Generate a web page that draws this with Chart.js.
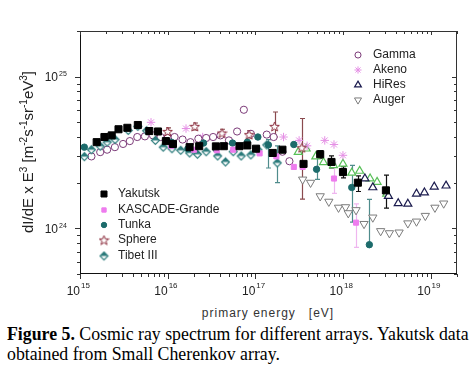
<!DOCTYPE html>
<html>
<head>
<meta charset="utf-8">
<script src="https://cdn.jsdelivr.net/npm/chart.js@4.4.1/dist/chart.umd.min.js"></script>
<style>
body { margin: 0; background: #fff; }
#wrap { position: relative; width: 476px; height: 373px; overflow: hidden; }
#box { position: absolute; left: 0; top: 0; width: 476px; height: 300px; }
#xtitle { position: absolute; top: 306px; left: 268px; transform: translateX(-50%); font: 12px "Liberation Sans", Arial, sans-serif; letter-spacing: 1px; color: #333; white-space: pre; }
#caption { position: absolute; left: 7px; top: 324px; font: 17.8px "Liberation Serif", "Times New Roman", serif; line-height: 20px; color: #000; white-space: nowrap; }
</style>
</head>
<body>
<div id="wrap">
    <div id="box"><canvas id="spectrum"></canvas></div>
    <div id="xtitle">primary energy   [eV]</div>
    <div id="caption"><b>Figure 5.</b> Cosmic ray spectrum for different arrays. Yakutsk data<br>obtained from Small Cherenkov array.</div>
</div>
<script>
// energies in eV, flux dI/dE x E^3 in units of 1e24 m-2 s-1 sr-1 eV2

const xDecades = [15, 16, 17, 18, 19];
const yDecades = [24, 25];

const yakutskE = [1.55e15, 1.9e15, 2.3e15, 2.75e15, 3.47e15, 4.57e15, 6.17e15, 7.76e15, 9.55e15, 1.15e16, 1.78e16, 2.29e16, 3.55e16, 4.37e16, 6.6e16, 8.1e16, 1.02e17, 1.58e17, 2.04e17, 3.55e17, 5.5e17, 7.4e17, 1.0e18, 1.48e18, 3.09e18];
const yakutskJ = [3.7, 4.0, 4.1, 4.5, 4.6, 4.8, 4.38, 4.35, 3.76, 3.6, 3.43, 3.48, 3.47, 3.48, 3.48, 3.52, 3.35, 3.14, 3.3, 2.66, 3.08, 2.74, 2.35, 2.0, 1.78];
const yakutskLo = [null, null, null, null, null, null, null, null, null, null, null, null, null, null, null, null, null, null, null, null, 2.9, 2.5, 2.15, 1.75, 1.36];
const yakutskHi = [null, null, null, null, null, null, null, null, null, null, null, null, null, null, null, null, null, null, null, null, 3.25, 3.0, 2.55, 2.22, 2.24];

const kascadeE = [1.1e16, 2.0e16, 3.63e16, 5.6e16, 1.12e17, 1.74e17, 2.75e17, 3.47e17, 7.9e17, 1.41e18];
const kascadeJ = [3.5, 3.3, 3.27, 3.3, 3.12, 2.98, 2.54, 2.54, 2.13, 1.09];
const kascadeLo = [null, null, null, null, null, null, null, null, 1.7, 0.75];
const kascadeHi = [null, null, null, null, null, null, null, null, 2.65, 1.45];

const tunkaE = [1.12e15, 1.1e16, 1.7e16, 2.57e16, 3.55e16, 5.5e16, 8.1e16, 1.07e17, 1.41e17, 2.75e17, 5.0e17, 5.5e17, 1.26e18, 2.0e18];
const tunkaJ = [3.43, 3.7, 3.35, 3.65, 3.35, 3.65, 3.7, 4.0, 3.55, 3.57, 2.45, 3.1, 1.86, 0.78];
const tunkaLo = [null, null, null, null, null, null, null, null, 2.5, null, 2.1, null, 1.1, 0.78];
const tunkaHi = [null, null, null, null, null, null, null, null, 3.85, null, 2.95, null, 2.6, 1.55];

const sphereE = [1.0e16, 2.04e16, 4.17e16, 8.5e16, 1.66e17, 3.39e17];
const sphereJ = [4.35, 4.7, 4.25, 4.15, 4.7, 3.4];
const sphereLo = [4.15, 4.45, 4.0, 3.95, 4.0, 1.56];
const sphereHi = [4.6, 4.95, 4.5, 4.4, 5.85, 5.3];

const tibetE = [1.12e15, 1.35e15, 1.7e15, 2.04e15, 2.51e15, 3.55e15, 4.57e15, 5.75e15, 7.24e15, 8.9e15, 1.12e16, 1.41e16, 1.78e16, 2.19e16, 2.75e16, 3.72e16, 4.57e16, 5.6e16, 6.9e16, 8.9e16, 1.07e17, 1.35e17, 1.78e17];
const tibetJ = [2.97, 3.3, 3.48, 3.7, 3.85, 4.42, 4.7, 4.4, 3.8, 3.43, 3.35, 3.27, 3.14, 3.08, 3.2, 3.0, 2.74, 3.2, 3.0, 3.05, 3.3, 3.55, 2.7];
const tibetLo = [null, null, null, null, null, null, null, null, null, null, null, null, null, null, null, null, null, null, null, null, null, null, 2.0];
const tibetHi = [null, null, null, null, null, null, null, null, null, null, null, null, null, null, null, null, null, null, null, null, null, null, 3.5];

const gammaE = [1.35e15, 1.7e15, 2.04e15, 2.5e15, 3.1e15, 3.7e15, 4.5e15, 5.5e15, 6.8e15, 8.3e15, 1.0e16, 1.2e16, 1.48e16, 1.82e16, 2.24e16, 2.75e16, 3.3e16, 4.0e16, 5.0e16, 6.2e16, 7.4e16, 8.9e16, 1.35e17, 1.62e17, 2.04e17, 2.45e17];
const gammaJ = [2.98, 3.18, 3.3, 3.43, 3.6, 3.76, 4.0, 4.04, 4.1, 4.0, 3.95, 4.0, 3.85, 3.7, 3.9, 3.94, 4.0, 4.1, 3.8, 4.35, 6.05, 4.2, 4.15, 4.0, 3.2, 2.77];

const akenoE = [6.46e15, 1.62e16, 2.51e16, 4.17e16, 2.1e17, 3.16e17, 3.9e17, 6.2e17, 7.9e17, 1.0e18];
const akenoJ = [5.0, 4.55, 4.0, 4.15, 4.0, 3.8, 3.5, 3.8, 3.57, 3.03];

const hiresE = [1.78e18, 2.19e18, 3.3e18, 4.27e18, 5.5e18, 6.9e18, 8.5e18, 1.1e19, 1.5e19];
const hiresJ = [2.13, 1.86, 1.63, 1.46, 1.45, 1.69, 1.72, 1.88, 1.91];

const hires1E = [3.09e17, 3.8e17, 4.9e17, 6.0e17, 7.8e17, 1.0e18, 1.26e18, 1.55e18, 2.04e18, 2.45e18, 3.16e18];
const hires1J = [3.18, 3.35, 2.97, 2.72, 2.6, 2.66, 2.32, 2.39, 2.13, 2.02, 1.69];

const augerE = [3.47e17, 4.27e17, 5.5e17, 6.9e17, 8.9e17, 1.07e18, 1.15e18, 1.41e18, 1.74e18, 2.19e18, 2.69e18, 3.39e18, 4.37e18, 5.5e18, 6.9e18, 8.7e18, 1.12e19, 1.41e19];
const augerJ = [2.1, 2.0, 1.63, 1.5, 1.37, 1.38, 1.26, 1.32, 1.07, 1.18, 0.96, 0.93, 0.94, 1.08, 1.11, 1.21, 1.37, 1.46];

const legendLeft = ["Yakutsk", "KASCADE-Grande", "Tunka", "Sphere", "Tibet III"];
const legendRight = ["Gamma", "Akeno", "HiRes", "Auger"];

const SANS = '"Liberation Sans", Arial, sans-serif';

function pts(E, J) {
    return E.map((e, i) => ({ x: e, y: J[i] * 1e24 }));
}

function makeStar(color) {
    const c = document.createElement("canvas");
    c.width = 11; c.height = 11;
    const g = c.getContext("2d");
    g.beginPath();
    for (let k = 0; k < 10; k++) {
        const r = k % 2 ? 2.1 : 5;
        const a = -Math.PI / 2 + k * Math.PI / 5;
        g.lineTo(5.5 + r * Math.cos(a), 6 + r * Math.sin(a));
    }
    g.closePath();
    g.fillStyle = "#fff";
    g.fill();
    g.strokeStyle = color;
    g.lineWidth = 1;
    g.stroke();
    return c;
}

function makeHalfDiamond(color) {
    const c = document.createElement("canvas");
    c.width = 11; c.height = 11;
    const g = c.getContext("2d");
    g.beginPath();
    g.moveTo(5.5, 1.5); g.lineTo(9.5, 5.5); g.lineTo(5.5, 9.5); g.lineTo(1.5, 5.5);
    g.closePath();
    g.fillStyle = "#fff";
    g.fill();
    g.strokeStyle = color;
    g.lineWidth = 1.1;
    g.stroke();
    g.beginPath();
    g.moveTo(1.5, 5.5); g.lineTo(5.5, 1.5); g.lineTo(9.5, 5.5);
    g.closePath();
    g.fillStyle = color;
    g.fill();
    return c;
}

function series(label, E, J, style) {
    return Object.assign({
        label: label,
        data: pts(E, J),
        showLine: false,
        borderWidth: 1
    }, style);
}

const datasets = [
    series("Yakutsk", yakutskE, yakutskJ, { pointStyle: "rect", pointRadius: 5, backgroundColor: "#000", borderColor: "#000", errLo: yakutskLo, errHi: yakutskHi, errColor: "#111" }),
    series("KASCADE-Grande", kascadeE, kascadeJ, { pointStyle: "rect", pointRadius: 3.6, backgroundColor: "#ee7cee", borderColor: "#ee7cee", errLo: kascadeLo, errHi: kascadeHi, errColor: "#efb6ef" }),
    series("Tunka", tunkaE, tunkaJ, { pointStyle: "circle", pointRadius: 3.2, backgroundColor: "#1c6b6b", borderColor: "#1c6b6b", errLo: tunkaLo, errHi: tunkaHi, errColor: "#4f8c8c" }),
    series("Sphere", sphereE, sphereJ, { pointStyle: makeStar("#8b2b3b"), pointRadius: 5, backgroundColor: "#fff", borderColor: "#8b2b3b", errLo: sphereLo, errHi: sphereHi, errColor: "#8a4a4e" }),
    series("Tibet III", tibetE, tibetJ, { pointStyle: makeHalfDiamond("#2a7a7a"), pointRadius: 5, backgroundColor: "#2a7a7a", borderColor: "#2a7a7a", errLo: tibetLo, errHi: tibetHi, errColor: "#4f8c8c" }),
    series("Gamma", gammaE, gammaJ, { pointStyle: "circle", pointRadius: 3.6, backgroundColor: "#fff", borderColor: "#7b3a78" }),
    series("Akeno", akenoE, akenoJ, { pointStyle: "star", pointRadius: 4.2, backgroundColor: "#e58fe5", borderColor: "#e58fe5" }),
    series("HiRes", hiresE, hiresJ, { pointStyle: "triangle", pointRadius: 4.6, backgroundColor: "#fff", borderColor: "#1b1b4e", borderWidth: 1.2 }),
    series("HiRes I", hires1E, hires1J, { pointStyle: "triangle", pointRadius: 4.6, backgroundColor: "#fff", borderColor: "#58bf58", borderWidth: 1.2 }),
    series("Auger", augerE, augerJ, { pointStyle: "triangle", rotation: 180, pointRotation: 180, pointRadius: 4.8, backgroundColor: "#fff", borderColor: "#7c7c7c" })
];

// mixed text runs: [text, isSuperscript]
function drawRuns(ctx, runs, x, y, size, supSize, rise, align) {
    let total = 0;
    runs.forEach(r => {
        ctx.font = (r[1] ? supSize : size) + "px " + SANS;
        total += ctx.measureText(r[0]).width;
    });
    let cx = align === "center" ? x - total / 2 : x;
    ctx.textAlign = "left";
    ctx.textBaseline = "alphabetic";
    runs.forEach(r => {
        ctx.font = (r[1] ? supSize : size) + "px " + SANS;
        ctx.fillText(r[0], cx, r[1] ? y - rise : y);
        cx += ctx.measureText(r[0]).width;
    });
}

const errorBars = {
    id: "errorBars",
    beforeDatasetsDraw(chart) {
        const ctx = chart.ctx;
        const xs = chart.scales.x;
        const ys = chart.scales.y;
        chart.data.datasets.forEach(ds => {
            if (!ds.errLo) return;
            ctx.save();
            ctx.strokeStyle = ds.errColor;
            ctx.lineWidth = 1.2;
            ds.data.forEach((p, i) => {
                if (ds.errLo[i] == null) return;
                const px = Math.round(xs.getPixelForValue(p.x)) + 0.5;
                const y1 = ys.getPixelForValue(ds.errLo[i] * 1e24);
                const y2 = ys.getPixelForValue(ds.errHi[i] * 1e24);
                ctx.beginPath();
                ctx.moveTo(px, y1); ctx.lineTo(px, y2);
                ctx.moveTo(px - 2.5, y1); ctx.lineTo(px + 2.5, y1);
                ctx.moveTo(px - 2.5, y2); ctx.lineTo(px + 2.5, y2);
                ctx.stroke();
            });
            ctx.restore();
        });
    }
};

const frame = {
    id: "frame",
    afterDraw(chart) {
        const ctx = chart.ctx;
        const a = chart.chartArea;
        const xs = chart.scales.x;
        const ys = chart.scales.y;
        ctx.save();
        ctx.strokeStyle = "#333";
        ctx.lineWidth = 1;
        ctx.strokeRect(a.left + 0.5, a.top + 0.5, a.right - a.left - 1, a.bottom - a.top - 1);
        ctx.strokeStyle = "#111";
        ctx.beginPath();
        ctx.moveTo(a.left + 0.5, a.top); ctx.lineTo(a.left + 0.5, a.bottom);
        ctx.moveTo(a.left, a.bottom - 0.5); ctx.lineTo(a.right, a.bottom - 0.5);
        ctx.stroke();
        ctx.strokeStyle = "#333";

        ctx.beginPath();
        for (let k = 15; k <= 19; k++) {
            for (let m = 1; m <= 9; m++) {
                const v = m * Math.pow(10, k);
                if (v < xs.min || v > xs.max) continue;
                const px = Math.round(xs.getPixelForValue(v)) + 0.5;
                const big = m === 1;
                ctx.moveTo(px, a.bottom); ctx.lineTo(px, a.bottom + (big ? 5 : 3));
                ctx.moveTo(px, a.top); ctx.lineTo(px, a.top + (big ? 4 : 3));
            }
        }
        for (let k = 23; k <= 25; k++) {
            for (let m = 1; m <= 9; m++) {
                const v = m * Math.pow(10, k);
                if (v < ys.min || v > ys.max) continue;
                const py = Math.round(ys.getPixelForValue(v)) + 0.5;
                const big = m === 1;
                ctx.moveTo(a.left, py); ctx.lineTo(a.left - (big ? 5 : 3), py);
                ctx.moveTo(a.right, py); ctx.lineTo(a.right - (big ? 5 : 3), py);
            }
        }
        ctx.stroke();

        ctx.fillStyle = "#222";
        xDecades.forEach(k => {
            const px = xs.getPixelForValue(Math.pow(10, k));
            ctx.font = "12px " + SANS;
            ctx.textAlign = "right";
            ctx.fillText("10", px, 295);
            ctx.font = "8px " + SANS;
            ctx.textAlign = "left";
            ctx.fillText(String(k), px + 1, 288);
        });
        yDecades.forEach(k => {
            const py = ys.getPixelForValue(Math.pow(10, k));
            ctx.font = "12px " + SANS;
            ctx.textAlign = "right";
            ctx.fillText("10", 58, py + 4.5);
            ctx.font = "7px " + SANS;
            ctx.textAlign = "left";
            ctx.fillText(String(k), 59, py - 0.5);
        });

        // y axis title
        ctx.save();
        ctx.translate(33, 152);
        ctx.rotate(-Math.PI / 2);
        ctx.fillStyle = "#222";
        drawRuns(ctx, [["dI/dE x E", 0], ["3", 1], [" [m", 0], ["-2", 1], ["s", 0], ["-1", 1], ["sr", 0], ["-1", 1], ["eV", 0], ["3", 1], ["]", 0]], 0, 0, 15, 10, 6, "center");
        ctx.restore();

        // legends
        const drawLegend = (names, mx, tx, rows) => {
            names.forEach((name, i) => {
                const ds = chart.data.datasets.find(d => d.label === name);
                ctx.save();
                ctx.fillStyle = ds.backgroundColor;
                ctx.strokeStyle = ds.borderColor;
                ctx.lineWidth = ds.borderWidth;
                Chart.helpers.drawPoint(ctx, {
                    pointStyle: ds.pointStyle,
                    rotation: ds.pointRotation || 0,
                    radius: ds.pointRadius * 0.85,
                    borderWidth: ds.borderWidth
                }, mx, rows[i]);
                ctx.restore();
                ctx.fillStyle = "#222";
                ctx.font = "12px " + SANS;
                ctx.textAlign = "left";
                ctx.textBaseline = "middle";
                ctx.fillText(name, tx, rows[i]);
                ctx.textBaseline = "alphabetic";
            });
        };
        drawLegend(legendLeft, 104, 118, [194, 210, 225, 240, 256]);
        drawLegend(legendRight, 358, 373, [55, 70, 85, 100]);
        ctx.restore();
    }
};

new Chart(
    document.getElementById("spectrum"),
    {
        type: "scatter",
        data: { datasets: datasets },
        options: {
            responsive: true,
            maintainAspectRatio: false,
            animation: false,
            devicePixelRatio: 1,
            events: [],
            layout: { padding: { top: 31, right: 19, left: 0, bottom: 0 } },
            plugins: { legend: { display: false }, tooltip: { enabled: false } },
            scales: {
                x: {
                    type: "logarithmic",
                    min: 1e15,
                    max: 2e19,
                    grid: { display: false },
                    border: { display: false },
                    ticks: { display: false },
                    afterFit: s => { s.height = 26; }
                },
                y: {
                    type: "logarithmic",
                    min: 5e23,
                    max: 2e25,
                    grid: { display: false },
                    border: { display: false },
                    ticks: { display: false },
                    afterFit: s => { s.width = 80; }
                }
            }
        },
        plugins: [errorBars, frame]
    }
);
</script>
</body>
</html>
